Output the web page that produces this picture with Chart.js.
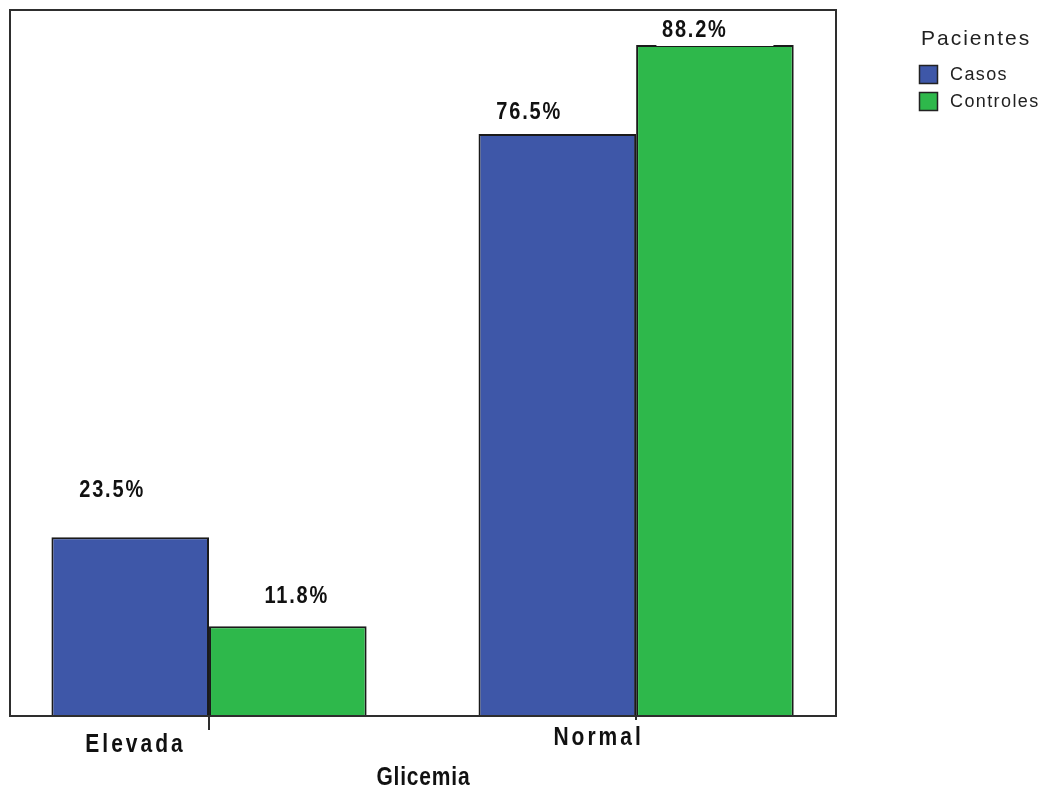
<!DOCTYPE html>
<html>
<head>
<meta charset="utf-8">
<title>Glicemia - Pacientes</title>
<script src="https://cdn.jsdelivr.net/npm/chart.js@4.4.0/dist/chart.umd.min.js"></script>
<style>
  html, body { margin: 0; padding: 0; background: #fff; }
  #wrap { position: relative; width: 1044px; height: 798px; }
  canvas { position: absolute; left: 0; top: 0; }
</style>
</head>
<body>
<div id="wrap"><canvas id="c" width="1044" height="798"></canvas></div>
<script>
// ---- data ----
const categories = ['Elevada', 'Normal'];
const seriesNames = ['Casos', 'Controles'];
const casos = [23.5, 76.5];
const controles = [11.8, 88.2];
const legendTitle = 'Pacientes';
const axisTitle = 'Glicemia';

// ---- styling ----
const colors = { casos: '#3e57a8', controles: '#2eb84b' };
const FONT = '"Liberation Sans", Arial, sans-serif';
const style = {
  // label offset from the top-centre of each bar, per series / category
  valueLabelOffset: [
    [[-19, -47], [-29, -22]],
    [[8, -30], [-21, -15]]
  ],
  labelBoxW: 117,
  labelBoxHalfH: 16,
  catLabelOffset: [[-75, 29], [-39, 22]],
  tickLen: [14, 4],
  titleY: 778
};

function drawText(ctx, str, x, y, o) {
  ctx.save();
  ctx.font = `${o.weight || 'normal'} ${o.size}px ${FONT}`;
  if ('letterSpacing' in ctx) ctx.letterSpacing = (o.ls || 0) + 'px';
  ctx.fillStyle = o.color || '#111';
  ctx.textAlign = o.align || 'center';
  ctx.textBaseline = o.baseline || 'middle';
  ctx.translate(x, y);
  ctx.scale(o.sx || 1, o.sy || 1);
  ctx.fillText(str, (o.align === 'left' || !o.ls) ? 0 : (o.ls / 2), 0);
  ctx.restore();
}

const decorations = {
  id: 'decorations',
  afterDatasetsDraw(chart) {
    const ctx = chart.ctx;
    const area = chart.chartArea;
    const xs = chart.scales.x;

    // value labels (white box behind each)
    chart.data.datasets.forEach((ds, di) => {
      const meta = chart.getDatasetMeta(di);
      meta.data.forEach((bar, i) => {
        const off = style.valueLabelOffset[di][i];
        const cy = bar.y + off[1];
        ctx.save();
        ctx.fillStyle = '#fff';
        ctx.fillRect(bar.x - style.labelBoxW / 2, cy - style.labelBoxHalfH,
                     style.labelBoxW, style.labelBoxHalfH * 2);
        ctx.restore();
        drawText(ctx, ds.data[i].y.toFixed(1) + '%', bar.x + off[0], cy,
                 { size: 20, weight: 'bold', ls: 1.8, sy: 1.2, color: '#111' });
      });
    });

    // plot frame
    ctx.save();
    ctx.strokeStyle = '#2e2e2e';
    ctx.lineWidth = 2;
    ctx.strokeRect(area.left, area.top, area.right - area.left, area.bottom - area.top);
    // category ticks
    ctx.lineWidth = 2;
    categories.forEach((c, i) => {
      const px = Math.round(xs.getPixelForValue(i));
      ctx.beginPath();
      ctx.moveTo(px, area.bottom);
      ctx.lineTo(px, area.bottom + style.tickLen[i]);
      ctx.stroke();
    });
    ctx.restore();

    // category labels
    categories.forEach((c, i) => {
      const px = xs.getPixelForValue(i);
      const off = style.catLabelOffset[i];
      drawText(ctx, c, px + off[0], area.bottom + off[1],
               { size: 21, weight: 'bold', ls: 3, sy: 1.2, color: '#111' });
    });

    // axis title
    drawText(ctx, axisTitle, (area.left + area.right) / 2, style.titleY,
             { size: 21, weight: 'bold', ls: 0.8, sy: 1.2, color: '#111' });

    // legend
    drawText(ctx, legendTitle, 921, 39,
             { size: 21, ls: 2, align: 'left', color: '#222' });
    chart.data.datasets.forEach((ds, di) => {
      const top = 65 + di * 27;
      ctx.save();
      ctx.fillStyle = ds.backgroundColor;
      ctx.fillRect(919, top, 19, 19);
      ctx.strokeStyle = '#222';
      ctx.lineWidth = 1.5;
      ctx.strokeRect(919.5, top + 0.5, 18, 18);
      ctx.restore();
      drawText(ctx, ds.label, 950, top + 10,
               { size: 18, ls: 1.4, align: 'left', color: '#222' });
    });
  }
};

const toPoints = arr => arr.map((v, i) => ({ x: i, y: v }));

new Chart(document.getElementById('c'), {
  type: 'bar',
  data: {
    datasets: [
      { label: seriesNames[0], data: toPoints(casos), backgroundColor: colors.casos,
        borderColor: '#1a1a1a', borderWidth: 2 },
      { label: seriesNames[1], data: toPoints(controles), backgroundColor: colors.controles,
        borderColor: '#1a1a1a', borderWidth: 2 }
    ]
  },
  options: {
    responsive: false,
    animation: false,
    devicePixelRatio: 1,
    layout: { padding: { left: 10, top: 10, right: 208, bottom: 82 } },
    categoryPercentage: 0.738,
    barPercentage: 1,
    scales: {
      x: {
        type: 'linear', display: false, offset: false, min: -0.466, max: 1.468,
        afterBuildTicks: scale => { scale.ticks = categories.map((c, i) => ({ value: i })); }
      },
      y: { display: false, min: 0, max: 92.8 }
    },
    plugins: { legend: { display: false }, tooltip: { enabled: false } }
  },
  plugins: [decorations]
});
</script>
</body>
</html>
